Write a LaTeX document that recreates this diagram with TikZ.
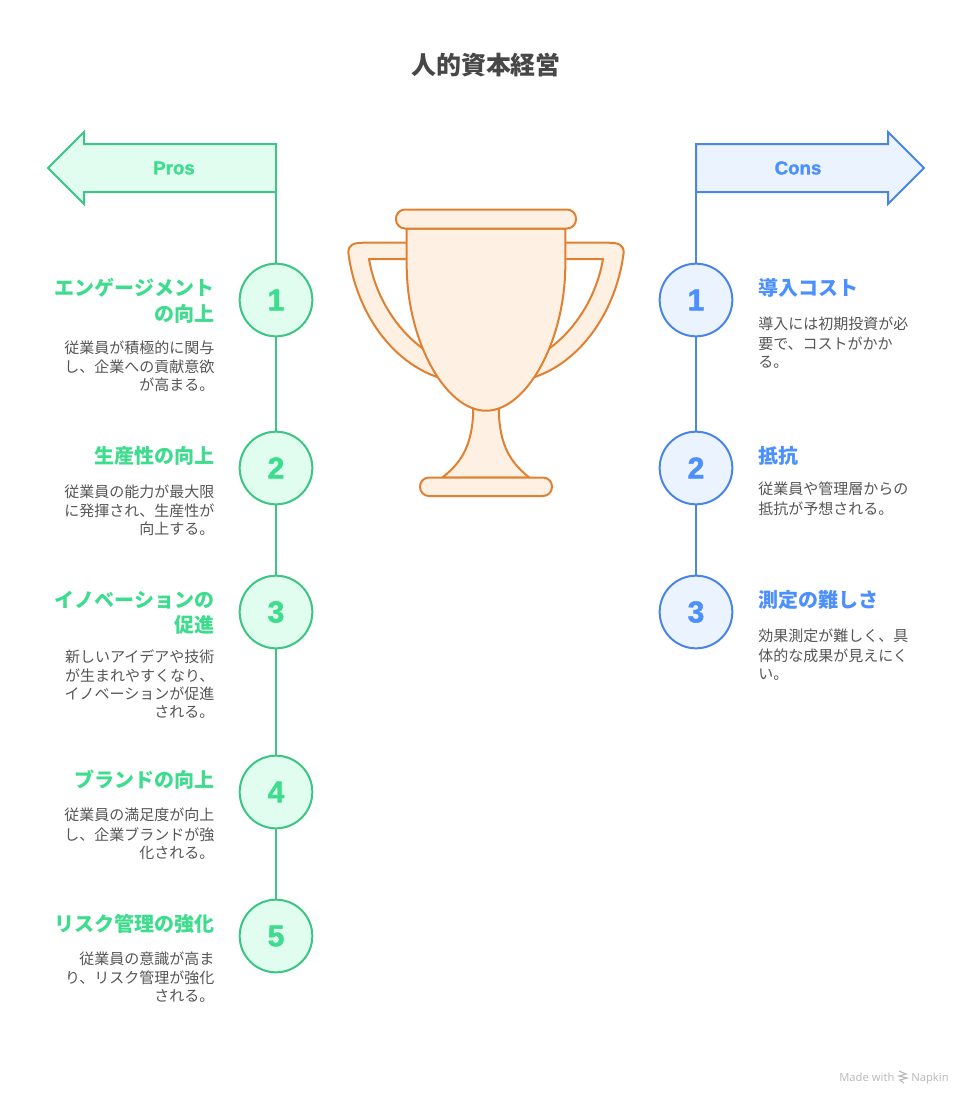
\documentclass[tikz,border=0pt]{standalone}
\usepackage{fontspec}
\usepackage{xcolor}
\setmainfont{Noto Sans CJK JP}
\newfontfamily\markfont{Noto Sans}
\newfontfamily\latinfont{Liberation Sans}[BoldFeatures={FakeBold=1.6}]
\usetikzlibrary{positioning}
\definecolor{prosLine}{HTML}{3CC583}
\definecolor{prosFill}{HTML}{E0FDEF}
\definecolor{prosText}{HTML}{3EDC8D}
\definecolor{consLine}{HTML}{4A86E8}
\definecolor{consFill}{HTML}{EBF3FE}
\definecolor{consText}{HTML}{4C8FFF}
\definecolor{cupLine}{HTML}{E08030}
\definecolor{cupFill}{HTML}{FEF0E3}
\definecolor{bodyText}{HTML}{555555}
\definecolor{markText}{HTML}{BBBBBB}
\tikzstyle{title} = [font=\fontsize{18.7}{22}\selectfont\bfseries, text=black!72]
\tikzstyle{banner} = [font=\fontsize{14}{18}\selectfont\latinfont\bfseries]
\tikzstyle{prosBox} = [line width=1.5pt, draw=prosLine, fill=prosFill, line join=miter]
\tikzstyle{consBox} = [line width=1.5pt, draw=consLine, fill=consFill, line join=miter]
\tikzstyle{prosStep} = [circle, inner sep=0pt, minimum size=54.5pt, line width=1.5pt,
draw=prosLine, fill=prosFill, text=prosText,
font=\fontsize{22.5}{26}\selectfont\latinfont\bfseries]
\tikzstyle{consStep} = [circle, inner sep=0pt, minimum size=54.5pt, line width=1.5pt,
draw=consLine, fill=consFill, text=consText,
font=\fontsize{22.5}{26}\selectfont\latinfont\bfseries]
\tikzstyle{prosHead} = [anchor=north east, inner sep=0pt, align=right, text=prosText,
font=\fontsize{15}{18}\selectfont\bfseries]
\tikzstyle{consHead} = [anchor=north west, inner sep=0pt, align=left, text=consText,
font=\fontsize{15}{18}\selectfont\bfseries]
\tikzstyle{prosBody} = [anchor=north east, inner sep=0pt, align=right, text=bodyText,
font=\fontsize{11.25}{13.5}\selectfont]
\tikzstyle{consBody} = [anchor=north west, inner sep=0pt, align=left, text=bodyText,
font=\fontsize{11.25}{13.5}\selectfont]
\tikzstyle{prosLink} = [line width=1.5pt, draw=prosLine]
\tikzstyle{consLink} = [line width=1.5pt, draw=consLine]
\tikzstyle{cup} = [line width=1.5pt, draw=cupLine, fill=cupFill, line join=round]
\tikzstyle{stamp} = [inner sep=0pt, text=markText, font=\fontsize{8.4}{10}\selectfont\markfont]
\begin{document}
\begin{tikzpicture}[x=0.75pt, y=-0.75pt]
	\useasboundingbox (0,0) rectangle (972,1104);
	\node (heading)[title] at (486,65) {人的資本経営};

	% trophy
	\foreach \s in {1,-1} {
		\begin{scope}[shift={(486,0)}, xscale=\s]
			\draw [cup] (-76,242.7) -- (-122,242.7) .. controls (-133,242.7) and (-138.5,245) .. (-137.5,254)
				.. controls (-130,310) and (-96,362) .. (-46,378) -- (-61,350)
				.. controls (-86,333) and (-110,300) .. (-117,259) -- (-76,259) -- cycle;
		\end{scope}
	}
	\draw [cup] (473.3,405) .. controls (473.3,440) and (465,460) .. (442.3,477.5) -- (529.3,477.5)
		.. controls (507,460) and (498.7,440) .. (498.7,405) -- cycle;
	\draw [cup] (406.7,228.5) -- (406.7,265) .. controls (406.7,340) and (445,410.7) .. (486,410.7)
		.. controls (527,410.7) and (565.3,340) .. (565.3,265) -- (565.3,228.5) -- cycle;
	\draw [cup, rounded corners=6.75pt] (396,209.5) rectangle (576,228.5);
	\draw [cup, rounded corners=6.75pt] (420,477.5) rectangle (552,496);

	% pros
	\draw [prosBox] (276,144) -- (84,144) -- (84,132) -- (48,168) -- (84,204) -- (84,192) -- (276,192) -- cycle;
	\coordinate (prosEnd) at (276,192);
	\node (pros)[banner, text=prosText] at (174,168) {Pros};
	\node (prosOne)[prosStep] at (276,300) {1};
	\node (prosTwo)[prosStep] at (276,468) {2};
	\node (prosThree)[prosStep] at (276,612) {3};
	\node (prosFour)[prosStep] at (276,792) {4};
	\node (prosFive)[prosStep] at (276,936) {5};
	\draw [prosLink] (prosEnd) -- (prosOne);
	\draw [prosLink] (prosOne) -- (prosTwo);
	\draw [prosLink] (prosTwo) -- (prosThree);
	\draw [prosLink] (prosThree) -- (prosFour);
	\draw [prosLink] (prosFour) -- (prosFive);

	\node (prosHeadOne)[prosHead] at (214.7,278) {\strut エンゲージメント\\\strut の向上};
	\node (prosBodyOne)[prosBody] at (214.7,340.3) {\strut 従業員が積極的に関与\\し、企業への貢献意欲\\が高まる。};
	\node (prosHeadTwo)[prosHead] at (214.7,446) {\strut 生産性の向上};
	\node (prosBodyTwo)[prosBody] at (214.7,484.3) {\strut 従業員の能力が最大限\\に発揮され、生産性が\\向上する。};
	\node (prosHeadThree)[prosHead] at (214.7,590) {\strut イノベーションの\\\strut 促進};
	\node (prosBodyThree)[prosBody] at (214.7,649) {\strut 新しいアイデアや技術\\が生まれやすくなり、\\イノベーションが促進\\される。};
	\node (prosHeadFour)[prosHead] at (214.7,770) {\strut ブランドの向上};
	\node (prosBodyFour)[prosBody] at (214.7,808) {\strut 従業員の満足度が向上\\し、企業ブランドが強\\化される。};
	\node (prosHeadFive)[prosHead] at (214.7,914) {\strut リスク管理の強化};
	\node (prosBodyFive)[prosBody] at (214.7,951.3) {\strut 従業員の意識が高ま\\り、リスク管理が強化\\される。};

	% cons
	\draw [consBox] (696,144) -- (888,144) -- (888,132) -- (924,168) -- (888,204) -- (888,192) -- (696,192) -- cycle;
	\coordinate (consEnd) at (696,192);
	\node (cons)[banner, text=consText] at (798,168) {Cons};
	\node (consOne)[consStep] at (696,300) {1};
	\node (consTwo)[consStep] at (696,468) {2};
	\node (consThree)[consStep] at (696,612) {3};
	\draw [consLink] (consEnd) -- (consOne);
	\draw [consLink] (consOne) -- (consTwo);
	\draw [consLink] (consTwo) -- (consThree);

	\node (consHeadOne)[consHead] at (758,278) {\strut 導入コスト};
	\node (consBodyOne)[consBody] at (758,316.7) {\strut 導入には初期投資が必\\要で、コストがかか\\る。};
	\node (consHeadTwo)[consHead] at (758,446) {\strut 抵抗};
	\node (consBodyTwo)[consBody] at (758,481.7) {\strut 従業員や管理層からの\\抵抗が予想される。};
	\node (consHeadThree)[consHead] at (758,590) {\strut 測定の難しさ};
	\node (consBodyThree)[consBody] at (758,628.7) {\strut 効果測定が難しく、具\\体的な成果が見えにく\\い。};

	% watermark
	\node (madeWith)[stamp, anchor=base west] at (839,1081) {Made with};
	\node (napkin)[stamp, anchor=base west] at (911,1081) {Napkin};
	\draw [markText, line width=0.9pt] (899,1071) -- (906,1074) -- (899,1076) -- (907,1078) -- (900,1080) -- (904,1083);
\end{tikzpicture}
\end{document}
